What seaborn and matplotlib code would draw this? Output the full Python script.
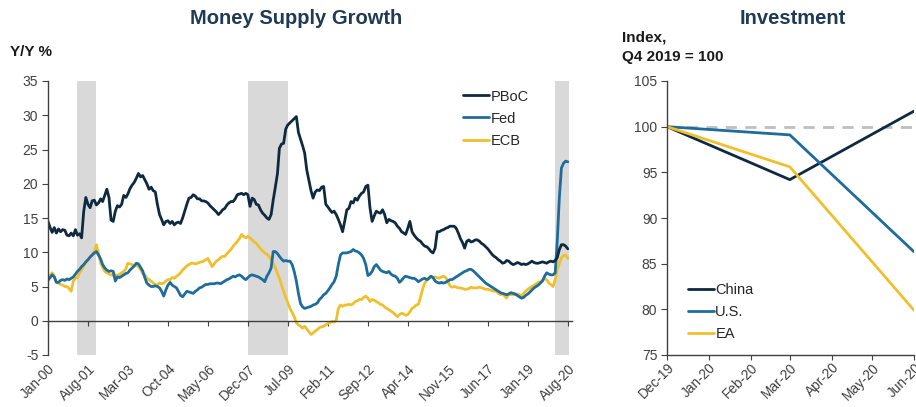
import matplotlib
matplotlib.use('Agg')
import matplotlib.pyplot as plt
import matplotlib.dates as mdates
import seaborn as sns
import pandas as pd

# Money supply growth, Y/Y %, monthly from Jan-00 to Aug-20
pboc = [
    14.5, 13.6, 12.9, 13.6, 12.8, 13.4, 13.0, 13.3, 13.2, 12.5, 12.4, 12.8,
    12.4, 13.3, 12.5, 12.7, 12.1, 16.0, 18.0, 17.0, 16.5, 17.5, 17.6, 16.9,
    17.2, 17.8, 17.4, 18.3, 19.2, 18.0, 14.7, 14.5, 16.0, 16.8, 16.6, 17.0,
    18.3, 18.0, 18.5, 19.3, 19.8, 20.2, 20.8, 21.5, 21.0, 21.2, 20.6, 20.0,
    19.2, 19.5, 19.0, 18.8, 17.0, 15.5, 14.8, 14.0, 14.5, 14.6, 14.2, 14.5,
    14.0, 14.3, 14.4, 14.2, 15.0, 16.0, 17.0, 17.9, 18.0, 18.4, 18.2, 17.8,
    17.8, 17.5, 17.5, 17.4, 17.2, 16.8, 16.5, 16.2, 15.9, 15.5, 15.8, 16.2,
    16.4, 16.9, 17.2, 17.4, 17.4, 17.8, 18.4, 18.5, 18.6, 18.4, 18.6, 18.4,
    16.7, 17.9, 17.7, 17.0, 16.9, 16.2, 15.7, 15.4, 15.0, 14.8, 15.5, 17.6,
    19.5, 21.5, 25.2, 25.8, 25.9, 28.0, 28.6, 28.9, 29.2, 29.5, 29.8, 27.5,
    26.5, 25.5, 24.5, 22.0, 20.5, 19.0, 17.9, 18.8, 19.1, 19.0, 19.5, 19.6,
    17.0, 16.6, 16.2, 15.8, 16.0, 15.5, 14.8, 14.0, 13.0, 14.5, 16.2, 16.4,
    17.4, 17.2, 17.9, 17.6, 18.2, 18.6, 18.8, 19.6, 19.8, 16.5, 14.5, 15.3,
    16.0, 15.8, 15.7, 16.2, 15.5, 14.3, 14.8, 14.6, 14.5, 14.3, 13.8, 13.5,
    13.0, 12.8, 12.6, 13.5, 14.5, 13.0, 12.5, 12.1, 11.8, 11.6, 11.2, 10.9,
    10.8, 10.5, 10.1, 9.9, 10.6, 13.0, 13.0, 13.2, 13.3, 13.5, 13.6, 13.8,
    13.8, 13.8, 13.5, 12.8, 12.0, 11.4, 10.6, 11.6, 11.8, 11.5, 11.6, 11.8,
    11.8, 11.6, 11.3, 11.1, 10.8, 10.5, 10.1, 9.7, 9.4, 9.2, 8.9, 8.7,
    8.4, 8.5, 8.8, 8.7, 8.4, 8.2, 8.3, 8.5, 8.4, 8.2, 8.3, 8.2,
    8.3, 8.5, 8.7, 8.5, 8.4, 8.4, 8.5, 8.6, 8.5, 8.4, 8.6, 8.7,
    8.6, 8.8, 9.2, 10.4, 11.1, 11.1, 10.9, 10.5,
]
fed = [
    5.9, 6.3, 6.7, 6.4, 5.6, 5.6, 5.9, 6.0, 5.9, 6.1, 6.0, 6.2,
    6.4, 6.8, 7.2, 7.5, 7.9, 8.2, 8.6, 8.9, 9.3, 9.6, 9.9, 10.1,
    9.6, 9.0, 8.2, 7.7, 7.4, 7.2, 7.3, 7.2, 5.8, 6.4, 6.3, 6.5,
    6.7, 6.9, 7.0, 7.4, 7.7, 8.0, 8.4, 8.3, 7.8, 7.3, 6.3, 5.5,
    5.2, 5.0, 5.0, 5.1, 5.0, 4.8, 4.3, 3.6, 4.5, 5.2, 5.6, 5.2,
    5.0, 4.8, 4.3, 3.7, 3.5, 3.9, 4.3, 4.2, 4.1, 4.0, 4.3, 4.5,
    4.8, 4.9, 5.1, 5.3, 5.3, 5.4, 5.4, 5.4, 5.5, 5.5, 5.4, 5.6,
    5.8, 6.0, 6.1, 6.3, 6.5, 6.4, 6.6, 6.7, 6.5, 6.2, 6.0, 6.3,
    6.6, 6.7, 6.6, 6.5, 6.4, 6.2, 6.0, 5.7, 6.5, 7.0, 7.7, 10.1,
    10.1, 9.8, 9.4, 9.0, 8.7, 8.8, 8.7, 8.7, 8.2, 7.2, 5.8, 4.0,
    2.5, 2.0, 1.8, 1.9, 2.0, 2.1, 2.3, 2.4, 2.6, 3.1, 3.4, 3.8,
    4.0, 4.4, 4.8, 5.3, 5.7, 6.5, 8.2, 9.6, 9.9, 9.9, 9.9, 10.0,
    10.1, 10.4, 10.2, 10.1, 9.9, 9.6, 9.1, 8.2, 6.6, 6.8, 7.2, 7.9,
    8.2, 7.8, 7.4, 7.2, 7.1, 7.0, 7.2, 6.8, 6.6, 6.5, 6.2, 5.6,
    5.9, 6.3, 6.5, 6.4, 6.3, 6.2, 6.2, 6.0, 5.7, 5.9, 6.1, 6.2,
    6.0, 6.2, 6.5, 6.3, 5.8, 5.6, 5.5, 5.6, 5.5, 5.6, 5.8, 6.0,
    6.0, 6.2, 6.4, 6.6, 6.8, 7.0, 7.2, 7.3, 7.5, 7.5, 7.3, 7.0,
    6.7, 6.4, 6.1, 5.8, 5.5, 5.3, 5.1, 4.9, 4.7, 4.5, 4.3, 4.1,
    4.0, 3.9, 3.8, 3.9, 4.1, 4.0, 3.9, 3.7, 3.5, 3.3, 3.4, 3.7,
    3.9, 4.2, 4.5, 4.8, 5.0, 5.2, 5.5, 5.8, 6.5, 7.0, 6.8, 6.7,
    6.7, 7.0, 11.5, 18.0, 22.3, 23.0, 23.3, 23.2,
]
ecb = [
    6.2, 6.6, 7.0, 6.5, 5.7, 5.5, 5.3, 5.2, 5.0, 5.0, 4.7, 4.3,
    5.8, 6.2, 6.3, 7.0, 7.4, 8.0, 8.5, 8.9, 9.3, 9.7, 10.1, 11.1,
    9.8, 8.4, 7.8, 7.2, 7.0, 6.8, 6.7, 6.6, 6.7, 6.6, 6.8, 7.0,
    7.2, 7.6, 8.4, 8.3, 8.2, 8.0, 8.1, 7.9, 7.5, 6.9, 6.7, 6.2,
    6.0, 5.8, 5.5, 5.3, 5.2, 5.5, 5.4, 5.5, 5.8, 6.0, 6.0, 6.3,
    6.2, 6.5, 6.7, 7.0, 7.4, 7.7, 8.0, 8.2, 8.4, 8.4, 8.3, 8.4,
    8.5, 8.6, 8.7, 8.9, 9.1, 8.5, 7.9, 8.3, 8.7, 8.9, 9.2, 9.4,
    9.4, 9.8, 10.1, 10.4, 10.9, 11.2, 11.6, 12.0, 12.6, 12.3, 12.1, 12.3,
    12.1, 11.8, 11.5, 11.3, 10.9, 10.5, 10.2, 9.9, 9.7, 9.4, 8.9, 8.4,
    7.7, 6.9, 6.2, 5.2, 4.3, 3.4, 2.6, 1.8, 1.2, 0.6, -0.3, -0.6,
    -0.8, -1.1, -0.8, -1.2, -1.6, -2.0, -1.8, -1.5, -1.3, -1.0, -0.9, -0.8,
    -0.6, -0.4, -0.3, -0.1, -0.2, 0.1, 1.8, 2.3, 2.1, 2.3, 2.3, 2.4,
    2.3, 2.5, 2.8, 2.9, 3.1, 3.1, 3.4, 3.6, 3.3, 2.8, 3.1, 3.0,
    2.8, 2.6, 2.4, 2.3, 2.0, 1.8, 1.6, 1.4, 1.2, 0.9, 0.6, 0.9,
    1.1, 1.0, 0.8, 0.9, 1.3, 1.8, 2.0, 2.3, 2.4, 3.4, 4.6, 5.5,
    5.9, 6.2, 6.5, 6.3, 6.4, 6.3, 6.2, 6.4, 6.5, 6.3, 5.8, 5.1,
    4.9, 5.0, 4.9, 4.8, 4.8, 4.7, 4.6, 4.6, 4.7, 4.9, 4.8, 4.8,
    4.8, 4.9, 4.8, 4.7, 4.6, 4.6, 4.5, 4.4, 4.3, 4.3, 4.0, 3.8,
    3.9, 3.6, 3.3, 4.0, 3.8, 3.8, 3.9, 3.9, 3.8, 3.6, 4.0, 4.3,
    4.6, 4.8, 5.0, 5.2, 5.4, 5.6, 5.7, 5.9, 6.2, 6.0, 5.5, 5.3,
    5.0, 6.0, 7.4, 8.4, 9.2, 9.5, 9.6, 9.1,
]
money_ticks = ['Jan-00', 'Aug-01', 'Mar-03', 'Oct-04', 'May-06', 'Dec-07', 'Jul-09',
               'Feb-11', 'Sep-12', 'Apr-14', 'Nov-15', 'Jun-17', 'Jan-19', 'Aug-20']
recessions = [('2001-03-01', '2001-12-01'), ('2007-12-01', '2009-07-01'),
              ('2020-02-01', '2020-08-15')]

# Investment, index Q4 2019 = 100
inv_dates = ['Dec-19', 'Mar-20', 'Jun-20']
china = [100, 94.2, 101.7]
us = [100, 99.1, 86.3]
ea = [100, 95.6, 79.9]
inv_ticks = ['Dec-19', 'Jan-20', 'Feb-20', 'Mar-20', 'Apr-20', 'May-20', 'Jun-20']

NAVY = '#0e2a40'
BLUE = '#1d6c9c'
GOLD = '#f0c02c'
TXT = '#404040'

sns.set_style('white')
plt.rcParams['font.family'] = ['Liberation Sans', 'DejaVu Sans']
plt.rcParams['axes.unicode_minus'] = False

fig = plt.figure(figsize=(9.16, 4.07), dpi=100)
ax1 = fig.add_axes([48 / 916, 1 - 355 / 407, 524 / 916, 274 / 407])
ax2 = fig.add_axes([667 / 916, 1 - 355 / 407, 247 / 916, 274 / 407])


def style_axis(ax, xpad):
    ax.set_xlabel('')
    ax.set_ylabel('')
    for s in ['top', 'right']:
        ax.spines[s].set_visible(False)
    for s in ['left', 'bottom']:
        ax.spines[s].set_color(TXT)
        ax.spines[s].set_linewidth(1)
    ax.tick_params(axis='y', left=True, length=4, color=TXT, labelsize=10, labelcolor=TXT, pad=3)
    ax.tick_params(axis='x', bottom=True, length=3.5, color=TXT, labelsize=9.8,
                   labelcolor=TXT, pad=xpad)
    for lbl in ax.get_xticklabels():
        lbl.set_rotation(45)
        lbl.set_ha('right')
        lbl.set_rotation_mode('anchor')


# ---- left: money supply growth
months = pd.date_range('2000-01-01', periods=len(pboc), freq='MS')
ms = pd.DataFrame({'date': months, 'PBoC': pboc, 'Fed': fed, 'ECB': ecb})
ms = ms.melt(id_vars='date', var_name='series', value_name='value')

for start, end in recessions:
    ax1.axvspan(pd.Timestamp(start), pd.Timestamp(end), color='#d9d9d9', lw=0, zorder=0)

sns.lineplot(data=ms, x='date', y='value', hue='series',
             palette={'PBoC': NAVY, 'Fed': BLUE, 'ECB': GOLD},
             hue_order=['ECB', 'Fed', 'PBoC'], linewidth=2, ax=ax1, legend=False)

ax1.set_xlim(pd.Timestamp('2000-01-01'), pd.Timestamp('2020-10-01'))
ax1.set_ylim(-5, 35)
ax1.set_yticks(range(-5, 36, 5))
ax1.set_xticks(pd.to_datetime(money_ticks, format='%b-%y'))
ax1.xaxis.set_major_formatter(mdates.DateFormatter('%b-%y'))
ax1.spines['bottom'].set_position(('data', 0))
style_axis(ax1, 26)

h = [plt.Line2D([], [], color=c, lw=2) for c in (NAVY, BLUE, GOLD)]
ax1.legend(h, ['PBoC', 'Fed', 'ECB'], loc='upper left', bbox_to_anchor=(0.78, 0.99),
           frameon=False, fontsize=10.5, handlelength=1.8, handletextpad=0.1,
           labelspacing=0.55, borderaxespad=0)

# ---- right: investment
inv = pd.DataFrame({'date': pd.to_datetime(inv_dates, format='%b-%y'),
                    'China': china, 'U.S.': us, 'EA': ea})
inv = inv.melt(id_vars='date', var_name='series', value_name='value')

ax2.axhline(100, color='#bfbfbf', lw=2, ls=(0, (4, 3)), zorder=0)
sns.lineplot(data=inv, x='date', y='value', hue='series',
             palette={'China': NAVY, 'U.S.': BLUE, 'EA': GOLD},
             linewidth=2, ax=ax2, legend=False)
ax2.set_xlim(pd.Timestamp('2019-12-01'), pd.Timestamp('2020-06-01'))
ax2.set_ylim(75, 105)
ax2.set_yticks(range(75, 106, 5))
ax2.set_xticks(pd.to_datetime(inv_ticks, format='%b-%y'))
ax2.xaxis.set_major_formatter(mdates.DateFormatter('%b-%y'))
style_axis(ax2, 0.5)

h2 = [plt.Line2D([], [], color=c, lw=2) for c in (NAVY, BLUE, GOLD)]
ax2.legend(h2, ['China', 'U.S.', 'EA'], loc='lower left', bbox_to_anchor=(0.06, 0.03),
           frameon=False, fontsize=10.5, handlelength=1.8, handletextpad=0.1,
           labelspacing=0.55, borderaxespad=0)

# ---- titles and unit labels
fig.text(296 / 916, 1 - 19 / 407, 'Money Supply Growth', ha='center', va='center',
         fontsize=14.5, fontweight='bold', color='#1f3a56')
fig.text(793 / 916, 1 - 19 / 407, 'Investment', ha='center', va='center',
         fontsize=14.5, fontweight='bold', color='#1f3a56')
fig.text(10 / 916, 1 - 52 / 407, 'Y/Y %', ha='left', va='center',
         fontsize=11, fontweight='bold', color='#1a1a1a')
fig.text(622 / 916, 1 - 37 / 407, 'Index,', ha='left', va='center',
         fontsize=11, fontweight='bold', color='#1a1a1a')
fig.text(622 / 916, 1 - 57 / 407, 'Q4 2019 = 100', ha='left', va='center',
         fontsize=11, fontweight='bold', color='#1a1a1a')

fig.savefig('out.png', dpi=100)
